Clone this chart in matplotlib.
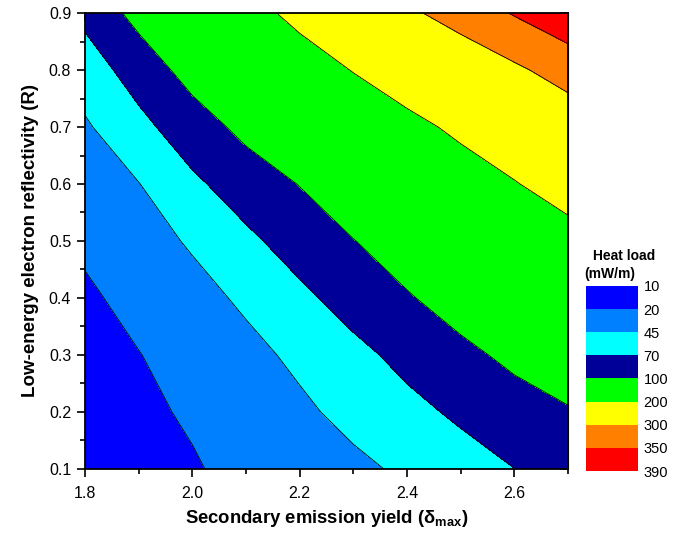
import numpy as np
import matplotlib
matplotlib.use("Agg")
import matplotlib.pyplot as plt
from matplotlib.colors import ListedColormap, BoundaryNorm
from matplotlib.ticker import MultipleLocator

plt.rcParams['font.family'] = ['Liberation Sans', 'DejaVu Sans']
plt.rcParams['mathtext.fontset'] = 'custom'
plt.rcParams['mathtext.rm'] = 'Liberation Sans:bold'
plt.rcParams['mathtext.it'] = 'Liberation Sans:bold'
plt.rcParams['mathtext.bf'] = 'Liberation Sans:bold'

# grid: secondary emission yield (x) vs low-energy reflectivity (y)
delta_max = [1.8, 1.9, 2.0, 2.1, 2.2, 2.3, 2.4, 2.5, 2.6, 2.7]
reflectivity = [0.1, 0.2, 0.3, 0.4, 0.5, 0.6, 0.7, 0.8, 0.9]

# heat load in mW/m, one row per reflectivity value
heat_load = [
    [12.0, 15.3, 18.6, 24.6, 32.3, 40.0, 48.8, 59.3, 69.8, 79.9],
    [13.0, 16.9, 21.9, 31.4, 40.8, 51.5, 63.0, 74.3, 85.4, 96.5],
    [14.0, 19.4, 28.8, 38.6, 49.7, 63.2, 77.2, 91.6, 107.8, 126.0],
    [16.5, 26.5, 37.1, 48.9, 64.3, 80.4, 96.9, 115.3, 134.0, 153.0],
    [23.8, 35.3, 47.7, 64.5, 81.6, 99.0, 118.8, 138.7, 158.7, 178.6],
    [32.0, 44.4, 65.0, 83.3, 101.0, 124.9, 148.9, 172.9, 196.9, 225.8],
    [42.0, 62.6, 85.2, 108.4, 133.8, 159.1, 184.5, 211.2, 239.8, 268.5],
    [56.7, 82.0, 112.0, 142.0, 172.1, 202.1, 231.9, 261.8, 291.6, 320.9],
    [76.8, 110.1, 144.8, 179.5, 215.4, 252.8, 290.3, 322.7, 353.4, 384.0],
]

levels = [10, 20, 45, 70, 100, 200, 300, 350, 390]
band_colors = ['#0000FF', '#0080FF', '#00FFFF', '#000099',
               '#00FF00', '#FFFF00', '#FF8000', '#FF0000']

cmap = ListedColormap(band_colors)
norm = BoundaryNorm(levels, cmap.N)

X, Y = np.meshgrid(delta_max, reflectivity)
Z = np.array(heat_load)

fig = plt.figure(figsize=(6.83, 5.38), dpi=100)
ax = fig.add_axes([0.1245, 0.1283, 0.7071, 0.8475])

cs = ax.contourf(X, Y, Z, levels=levels, cmap=cmap, norm=norm)
ax.contour(X, Y, Z, levels=levels[1:-1], colors='black', linewidths=0.6)

ax.set_xlim(1.8, 2.7)
ax.set_ylim(0.1, 0.9)
ax.xaxis.set_major_locator(MultipleLocator(0.2))
ax.xaxis.set_minor_locator(MultipleLocator(0.1))
ax.yaxis.set_major_locator(MultipleLocator(0.1))
ax.yaxis.set_minor_locator(MultipleLocator(0.05))
ax.xaxis.set_major_formatter(plt.FormatStrFormatter('%.1f'))
ax.yaxis.set_major_formatter(plt.FormatStrFormatter('%.1f'))
ax.tick_params(which='major', direction='out', length=6, width=1.2, labelsize=11.5)
ax.tick_params(axis='x', which='major', pad=6)
ax.tick_params(axis='y', which='major', pad=4)
ax.tick_params(which='minor', direction='out', length=3.5, width=1.2)
for s in ax.spines.values():
    s.set_linewidth(1.3)

# inward ticks on the top and right frame
top = ax.secondary_xaxis('top')
top.xaxis.set_major_locator(MultipleLocator(0.2))
top.xaxis.set_minor_locator(MultipleLocator(0.1))
top.tick_params(which='both', direction='in', labeltop=False, width=1.2)
top.tick_params(which='major', length=6)
top.tick_params(which='minor', length=3.5)
right = ax.secondary_yaxis('right')
right.yaxis.set_major_locator(MultipleLocator(0.1))
right.yaxis.set_minor_locator(MultipleLocator(0.05))
right.tick_params(which='both', direction='in', labelright=False, width=1.2)
right.tick_params(which='major', length=6)
right.tick_params(which='minor', length=3.5)

ax.set_xlabel(r'Secondary emission yield ($\delta_{\mathbf{max}}$)',
              fontsize=13.3, fontweight='bold', labelpad=5)
ax.set_ylabel('Low-energy electron reflectivity (R)',
              fontsize=13.5, fontweight='bold', labelpad=7)

# colour key with 10 at the top
cax = fig.add_axes([0.858, 0.1245, 0.076, 0.344])
cb = fig.colorbar(cs, cax=cax, ticks=levels, spacing='uniform')
cax.invert_yaxis()
cb.outline.set_visible(False)
cax.tick_params(length=0, labelsize=10.5, pad=4)
cax.set_yticklabels([str(v) for v in levels])
fig.text(0.868, 0.524, 'Heat load', fontsize=10, fontweight='bold', ha='left', va='center')
fig.text(0.855, 0.490, '(mW/m)', fontsize=10, fontweight='bold', ha='left', va='center')

fig.savefig('out.png', dpi=100)
